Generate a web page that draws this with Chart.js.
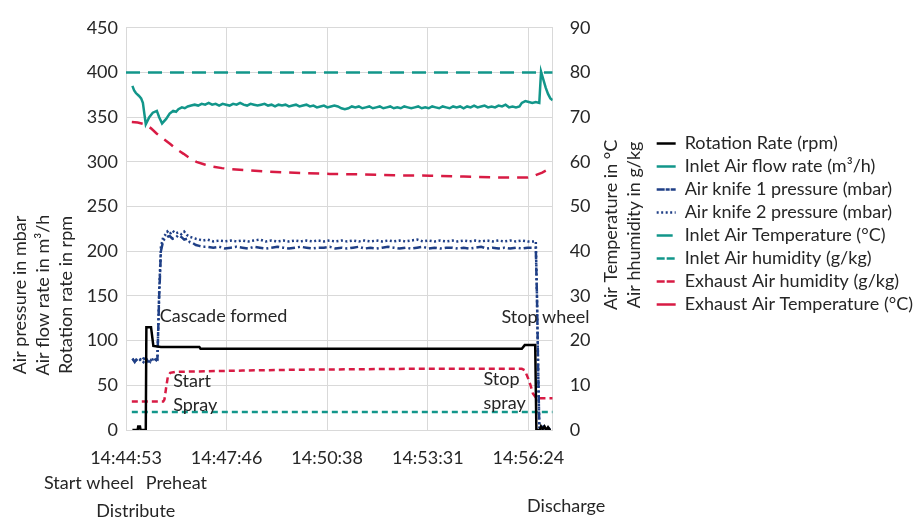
<!DOCTYPE html>
<html>
<head>
<meta charset="utf-8">
<script src="https://cdn.jsdelivr.net/npm/chart.js@4/dist/chart.umd.min.js"></script>
<style>
  html, body { margin: 0; padding: 0; background: #ffffff; }
  #wrap { width: 914px; height: 520px; }
</style>
</head>
<body>
<div id="wrap"><canvas id="chart" width="914" height="520"></canvas></div>
<script>
// Time is given in seconds after 14:44:53; axis labels every 0.002 day (172.8 s)
const timeLabels = ['14:44:53', '14:47:46', '14:50:38', '14:53:31', '14:56:24'];
const tickStepSec = 172.8;
const timeMaxSec = 733;

// [seconds, rpm]
const rotationRate = [
  [11,0],[20,0],[21,4],[24,4],[25,0],[34,0],[35,115],[43,115],[47,94],[60,93],[126,93],[128,91],
  [680,91],[685,95],[703,95],[705,0],[711,0],[713,4],[716,1],[719,4],[722,0],[725,3],[728,0],[730,0]
];

// [seconds, m³/h]
const inletAirFlow = [
  [11,385],[14,380],[17,377],[22,374],[26,371],[29,366],[34,342],[40,350],[46,355],[53,357],[57,350],
  [62,343],[69,348],[75,354],[81,357],[86,356],[90,359],[96,361],[101,360],[106,362],[112,363],[118,364],
  [124,363],[130,365],[136,364],[142,366],[148,364],[154,365],[160,363],[166,365],[172,364],[178,363],
  [184,365],[190,364],[196,366],[202,364],[208,363],[214,365],[220,364],[226,363],[232,364],[238,365],
  [244,363],[250,364],[256,362],[262,364],[268,363],[274,364],[280,362],[286,363],[292,364],[298,362],
  [304,363],[310,364],[316,362],[322,363],[328,361],[334,362],[340,363],[346,361],[352,362],[358,363],
  [364,362],[370,360],[376,359],[382,360],[388,362],[394,361],[400,362],[406,360],[412,361],[418,362],
  [424,360],[430,361],[436,362],[442,360],[448,361],[454,362],[460,360],[466,361],[472,360],[478,362],
  [484,361],[490,360],[496,361],[502,362],[508,360],[514,361],[520,360],[526,362],[532,361],[538,360],
  [544,362],[550,361],[556,360],[562,362],[568,361],[574,362],[580,360],[586,362],[592,361],[598,363],
  [604,361],[610,362],[616,363],[622,361],[628,362],[634,361],[640,363],[646,362],[652,364],[658,361],
  [664,362],[670,361],[676,362],[680,366],[686,368],[692,367],[698,366],[704,367],[710,366],[713,401],
  [717,392],[721,383],[725,376],[729,371],[733,369]
];

// [seconds, mbar]
const airKnife1 = [
  [11,80],[15,76],[18,79],[22,80],[26,77],[30,80],[35,79],[40,75],[44,79],[48,80],[52,78],[54,80],
  [57,150],[60,200],[64,212],[67,214],[71,216],[75,217],[80,214],[85,215],[90,218],[95,216],[100,213],
  [105,214],[110,210],[115,209],[120,207],[126,206],[132,205],[140,205],[150,204],[160,205],[170,203],
  [180,204],[190,205],[200,204],[210,203],[220,205],[230,204],[240,203],[250,204],[260,205],[270,204],
  [280,203],[290,204],[300,205],[310,204],[320,203],[330,204],[340,204],[350,205],[360,203],[370,204],
  [380,203],[390,204],[400,205],[410,203],[420,204],[430,203],[440,204],[450,205],[460,204],[470,203],
  [480,204],[490,203],[500,204],[510,205],[520,203],[530,204],[540,203],[550,204],[560,204],[570,203],
  [580,204],[590,203],[600,204],[610,205],[620,203],[630,204],[640,203],[650,204],[660,203],[670,204],
  [680,203],[690,204],[700,204],[704,204],[706,150],[708,70],[710,5],[713,2],[717,4],[721,1],[725,3],
  [729,0],[731,0]
];

// [seconds, mbar]
const airKnife2 = [
  [11,78],[16,80],[20,77],[25,79],[30,76],[34,80],[38,78],[42,76],[46,79],[50,80],[54,79],
  [57,155],[60,205],[64,216],[67,218],[71,222],[75,219],[80,223],[85,220],[90,221],[95,219],[100,222],
  [105,218],[110,216],[115,215],[120,214],[126,213],[132,212],[140,213],[150,211],[160,212],[170,211],
  [180,212],[190,211],[200,212],[210,211],[220,212],[230,213],[240,211],[250,212],[260,211],[270,212],
  [280,211],[290,212],[300,211],[310,212],[320,211],[330,212],[340,211],[350,212],[360,211],[370,212],
  [380,211],[390,212],[400,211],[410,212],[420,211],[430,212],[440,211],[450,212],[460,211],[470,212],
  [480,211],[490,212],[500,213],[510,211],[520,212],[530,211],[540,212],[550,211],[560,212],[570,211],
  [580,212],[590,211],[600,212],[610,211],[620,212],[630,211],[640,212],[650,211],[660,212],[670,211],
  [680,212],[690,211],[700,211],[704,211],[706,150],[708,70],[710,3],[713,1],[717,3],[721,0],[725,2],
  [729,0],[731,0]
];

// [seconds, °C]
const inletAirTemp = [[0,80],[733,80]];

// [seconds, g/kg]
const inletAirHumidity = [[10,4],[733,4]];

// [seconds, g/kg]
const exhaustAirHumidity = [
  [10,6.4],[64,6.4],[66,6.8],[69,9.5],[72,12],[76,12.8],[84,13],[120,13.1],[200,13.3],[300,13.5],
  [400,13.6],[500,13.7],[600,13.7],[680,13.7],[685,13.4],[691,11.5],[695,10],[699,8.2],[705,7.1],[733,7.1]
];

// [seconds, °C]
const exhaustAirTemp = [
  [10,68.9],[20,68.8],[33,68.4],[43,67.5],[53,66.3],[64,65.2],[76,64],[87,62.8],[99,61.8],[110,60.8],
  [121,60],[135,59.4],[150,58.9],[165,58.6],[179,58.4],[210,58.1],[242,57.8],[300,57.5],[350,57.3],
  [407,57.2],[460,57],[522,56.9],[580,56.7],[637,56.5],[690,56.5],[700,56.8],[705,57.1],[715,57.6],
  [725,58.3],[733,58.8]
];

// Process notes: text, time (s), level on the left axis
const noteTexts  = ['Cascade formed', 'Start', 'Spray', 'Stop wheel', 'Stop', 'spray',
                    'Start wheel', 'Preheat', 'Distribute', 'Discharge'];
const noteTimes  = [58, 81, 81, 645, 614, 614, -141, 34, -51, 689];
const noteLevels = [127, 55, 28, 126, 57, 30, -60, -60, -91, -85];

const leftTitleLines  = ['Air pressure in mbar', 'Air flow rate in m³/h', 'Rotation rate in rpm'];
const rightTitleLines = ['Air Temperature in °C', 'Air hhumidity in g/kg'];

const FONT = 'Lato';
const TEXT_COLOR = '#262626';
const GRID_COLOR = '#d9d9d9';
const TEAL = '#12968a';
const CRIMSON = '#d81b44';
const NAVY = '#1f3f86';

const toPoints = arr => arr.map(([x, y]) => ({ x, y }));

function lineSet(label, data, color, axis, dash) {
  return {
    label,
    data: toPoints(data),
    borderColor: color,
    backgroundColor: color,
    borderWidth: 2.5,
    borderDash: dash,
    pointRadius: 0,
    pointHoverRadius: 0,
    tension: 0,
    fill: false,
    yAxisID: axis
  };
}

// Free text notes placed with the chart scales
const notesPlugin = {
  id: 'processNotes',
  afterDraw(chart) {
    const { ctx, scales } = chart;
    ctx.save();
    ctx.font = `18px ${FONT}`;
    ctx.fillStyle = TEXT_COLOR;
    ctx.textAlign = 'left';
    ctx.textBaseline = 'middle';
    noteTexts.forEach((txt, i) => {
      ctx.fillText(txt, scales.x.getPixelForValue(noteTimes[i]), scales.y.getPixelForValue(noteLevels[i]));
    });
    ctx.restore();
  }
};

// Axis titles on both sides, reading bottom to top
const axisTitlesPlugin = {
  id: 'axisTitles',
  afterDraw(chart) {
    const { ctx, chartArea, scales } = chart;
    const draw = (lines, x0, cy) => {
      lines.forEach((line, i) => {
        ctx.save();
        ctx.translate(x0 + i * 23, cy);
        ctx.rotate(-Math.PI / 2);
        ctx.fillText(line, 0, 0);
        ctx.restore();
      });
    };
    ctx.save();
    ctx.font = `18px ${FONT}`;
    ctx.fillStyle = TEXT_COLOR;
    ctx.textAlign = 'center';
    ctx.textBaseline = 'middle';
    draw(leftTitleLines, scales.y.left + 20, chartArea.bottom - 135);
    draw(rightTitleLines, scales.y2.left + 59, (chartArea.top + chartArea.bottom) / 2 - 4);
    ctx.restore();
  }
};

// Legend placement beside the secondary axis
const legendPlacement = {
  id: 'legendPlacement',
  afterLayout(chart) {
    const l = chart.legend;
    l.left += 9; l.right += 9;
    l.top -= 5; l.bottom -= 5;
  }
};

new Chart(document.getElementById('chart'), {
  type: 'line',
  data: {
    datasets: [
      lineSet('Rotation Rate (rpm)', rotationRate, '#000000', 'y', []),
      lineSet('Inlet Air flow rate (m³/h)', inletAirFlow, TEAL, 'y', []),
      lineSet('Air knife 1 pressure (mbar)', airKnife1, NAVY, 'y', [8, 3, 2, 3]),
      lineSet('Air knife 2 pressure (mbar)', airKnife2, NAVY, 'y', [2, 2.5]),
      lineSet('Inlet Air Temperature (°C)', inletAirTemp, TEAL, 'y2', [14, 8]),
      lineSet('Inlet Air humidity (g/kg)', inletAirHumidity, TEAL, 'y2', [6, 4]),
      lineSet('Exhaust Air humidity (g/kg)', exhaustAirHumidity, CRIMSON, 'y2', [6, 4]),
      lineSet('Exhaust Air Temperature (°C)', exhaustAirTemp, CRIMSON, 'y2', [11, 8])
    ]
  },
  options: {
    responsive: false,
    animation: false,
    events: [],
    layout: { padding: { left: 0, right: 0, top: 18, bottom: 50 } },
    plugins: {
      tooltip: { enabled: false },
      legend: {
        position: 'right',
        align: 'center',
        fullSize: false,
        maxWidth: 320,
        labels: {
          boxWidth: 19,
          boxHeight: 0,
          padding: 5,
          color: TEXT_COLOR,
          font: { family: FONT, size: 18 }
        }
      }
    },
    scales: {
      x: {
        type: 'linear',
        min: 0,
        max: timeMaxSec,
        afterBuildTicks: s => { s.ticks = timeLabels.map((_, i) => ({ value: i * tickStepSec })); },
        afterFit: s => { s.height = 40; },
        ticks: {
          autoSkip: false,
          maxRotation: 0,
          padding: 17,
          color: TEXT_COLOR,
          font: { family: FONT, size: 18 },
          callback: (v, i) => timeLabels[i]
        },
        grid: { color: GRID_COLOR, drawTicks: false },
        border: { color: GRID_COLOR }
      },
      y: {
        position: 'left',
        min: 0,
        max: 450,
        afterFit: s => { s.width = 126; },
        ticks: { stepSize: 50, padding: 8, color: TEXT_COLOR, font: { family: FONT, size: 18 } },
        grid: { color: GRID_COLOR, drawTicks: false },
        border: { color: GRID_COLOR }
      },
      y2: {
        position: 'right',
        min: 0,
        max: 90,
        afterFit: s => { s.width = 90; },
        ticks: { stepSize: 10, padding: 17, color: TEXT_COLOR, font: { family: FONT, size: 18 } },
        grid: { display: false, drawTicks: false },
        border: { display: true, color: GRID_COLOR }
      }
    }
  },
  plugins: [notesPlugin, axisTitlesPlugin, legendPlacement]
});
</script>
</body>
</html>
